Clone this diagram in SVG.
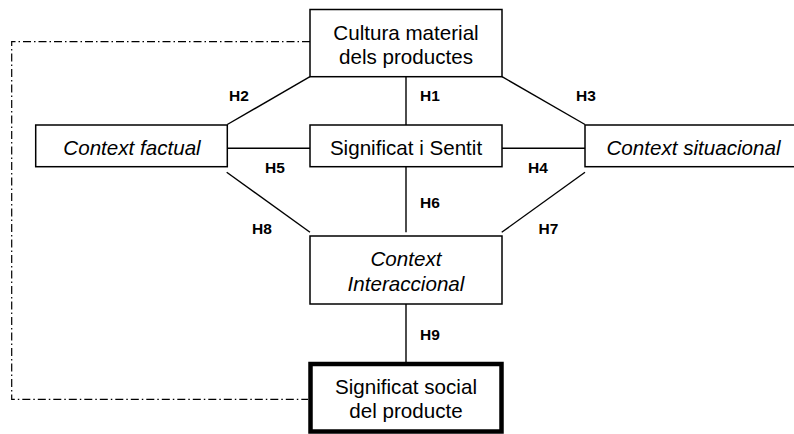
<svg xmlns="http://www.w3.org/2000/svg" width="794" height="434" viewBox="0 0 794 434">
  <style>
    .box { fill: #ffffff; stroke: #000000; stroke-width: 1.5; }
    .box-main { fill: #ffffff; stroke: #000000; stroke-width: 4.5; }
    .t { font-family: "Liberation Sans", Arial, sans-serif; font-size: 20.6px; fill: #000000; text-anchor: middle; }
    .it { font-style: italic; }
    .lbl { font-family: "Liberation Sans", Arial, sans-serif; font-size: 15.5px; font-weight: bold; fill: #000000; text-anchor: middle; }
    .link { stroke: #000000; stroke-width: 1.4; fill: none; }
    .dashdot { stroke: #000000; stroke-width: 1.2; fill: none; stroke-dasharray: 8 3 1.5 3; }
  </style>
  <rect width="794" height="434" fill="#ffffff"/>

  <g id="connectors">
    <!-- dash-dot feedback loop from the bottom node back to the top node -->
    <polyline class="dashdot" points="310,41.7 11.7,41.7 11.7,399.3 308,399.3"/>
    <!-- H1 -->
    <line class="link" x1="406" y1="77" x2="406" y2="125"/>
    <!-- H2 -->
    <line class="link" x1="227.3" y1="124.5" x2="310" y2="76.7"/>
    <!-- H3 -->
    <line class="link" x1="502" y1="76.7" x2="585" y2="124.5"/>
    <!-- H5 -->
    <line class="link" x1="227.3" y1="148.3" x2="310" y2="148.3"/>
    <!-- H4 -->
    <line class="link" x1="502" y1="148.3" x2="585" y2="148.3"/>
    <!-- H6 -->
    <line class="link" x1="406" y1="167" x2="406" y2="232.3"/>
    <!-- H8 -->
    <line class="link" x1="226.7" y1="172.3" x2="310" y2="232.3"/>
    <!-- H7 -->
    <line class="link" x1="585" y1="172.3" x2="501.7" y2="232.3"/>
    <!-- H9 -->
    <line class="link" x1="406" y1="304" x2="406" y2="362"/>

    <text class="lbl" x="239" y="101">H2</text>
    <text class="lbl" x="430" y="101">H1</text>
    <text class="lbl" x="586" y="101">H3</text>
    <text class="lbl" x="275" y="173">H5</text>
    <text class="lbl" x="538" y="173">H4</text>
    <text class="lbl" x="430" y="208">H6</text>
    <text class="lbl" x="262" y="233.5">H8</text>
    <text class="lbl" x="548.5" y="233.5">H7</text>
    <text class="lbl" x="430" y="340">H9</text>
  </g>

  <g id="cultura-material">
    <rect class="box" x="310" y="9.5" width="192" height="67.2"/>
    <text class="t" x="406" y="39.5">Cultura material</text>
    <text class="t" x="406" y="64">dels productes</text>
  </g>

  <g id="context-factual">
    <rect class="box" x="35.7" y="125" width="191.6" height="41.7"/>
    <text class="t it" x="132" y="155">Context factual</text>
  </g>

  <g id="significat-sentit">
    <rect class="box" x="310" y="125" width="192" height="41.7"/>
    <text class="t" x="406" y="154.5">Significat i Sentit</text>
  </g>

  <g id="context-situacional">
    <rect class="box" x="585" y="125" width="217" height="41.7"/>
    <text class="t it" x="693.5" y="154.5">Context situacional</text>
  </g>

  <g id="context-interaccional">
    <rect class="box" x="310" y="236" width="192" height="68"/>
    <text class="t it" x="406" y="266">Context</text>
    <text class="t it" x="406" y="290.7">Interaccional</text>
  </g>

  <g id="significat-social">
    <rect class="box-main" x="310.5" y="364" width="191" height="67.5"/>
    <text class="t" x="406" y="394">Significat social</text>
    <text class="t" x="406" y="418.3">del producte</text>
  </g>
</svg>
